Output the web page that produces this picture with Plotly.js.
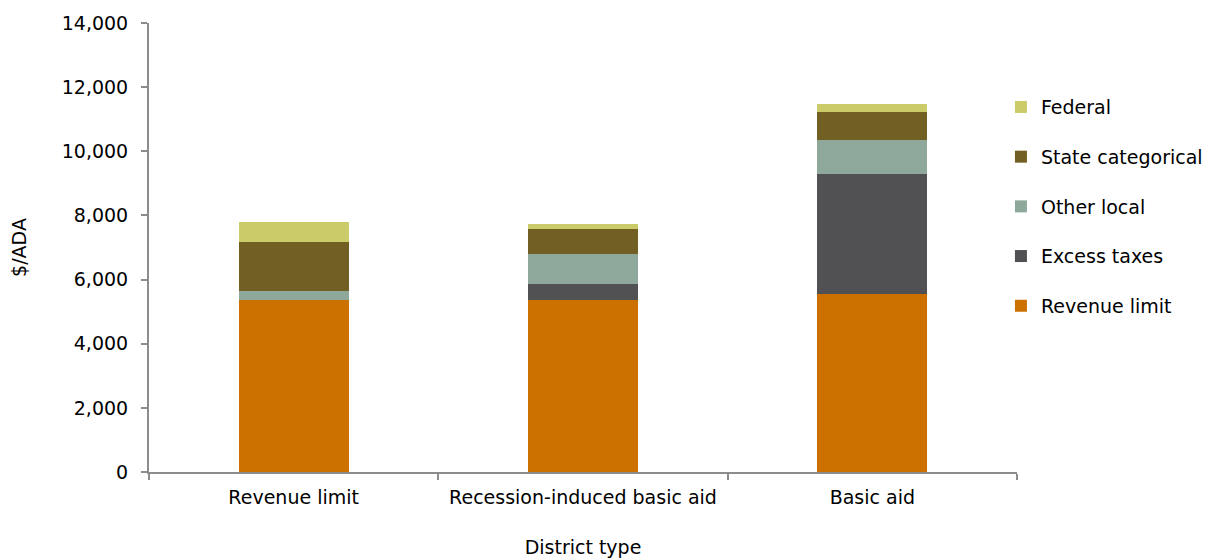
<!DOCTYPE html>
<html><head><meta charset="utf-8">
<script src="https://cdn.plot.ly/plotly-3.0.1.min.js"></script>
<style>html,body{margin:0;padding:0;background:#fff}#chart{width:1211px;height:560px}</style>
</head><body><div id="chart"></div>
<script>
const categories = ["Revenue limit", "Recession-induced basic aid", "Basic aid"];
const revenueLimit = [5360, 5370, 5540];
const excessTaxes = [0, 490, 3740];
const otherLocal = [290, 945, 1080];
const stateCategorical = [1510, 760, 880];
const federal = [620, 180, 240];
const seriesNames = ["Revenue limit", "Excess taxes", "Other local", "State categorical", "Federal"];
const seriesColors = ["#CC7000", "#515153", "#8EA99C", "#725F23", "#CBCB69"];
const seriesValues = [revenueLimit, excessTaxes, otherLocal, stateCategorical, federal];

const traces = seriesValues.map((v, i) => ({
  type: 'bar', x: categories, y: v, name: seriesNames[i],
  legendgroup: 'g' + i, legendrank: 10 - i,
  marker: {color: seriesColors[i], line: {width: 0}},
  width: 0.38, hoverinfo: 'y+name'
}));

const font = {family: 'DejaVu Sans, Arial, sans-serif', size: 19, color: '#000'};
Plotly.newPlot('chart', traces, {
  width: 1211, height: 560,
  barmode: 'stack',
  margin: {l: 149, r: 194, t: 23, b: 88, autoexpand: false},
  paper_bgcolor: '#fff', plot_bgcolor: '#fff',
  font: font,
  showlegend: true,
  legend: {x: 0.9815, xanchor: 'left', y: 0.855, yanchor: 'top', traceorder: 'grouped',
           tracegroupgap: 22, font: font, bgcolor: 'rgba(0,0,0,0)'},
  xaxis: {type: 'category', showline: true, linecolor: '#8c8c8c', linewidth: 2,
          ticks: 'outside', tickson: 'boundaries', ticklen: 6, tickcolor: '#8c8c8c', tickwidth: 2,
          ticklabelstandoff: 7,
          showgrid: false, zeroline: false, tickfont: font,
          title: {text: 'District type', font: font, standoff: 34}},
  yaxis: {range: [0, 14000], dtick: 2000, tickformat: ',d', showline: true, linecolor: '#8c8c8c', linewidth: 2,
          ticks: 'outside', ticklen: 6, tickcolor: '#8c8c8c', tickwidth: 2,
          ticklabelstandoff: 9,
          showgrid: false, zeroline: false, tickfont: font,
          title: {text: '$/ADA', font: font, standoff: 30}}
}, {staticPlot: true});
</script></body></html>
